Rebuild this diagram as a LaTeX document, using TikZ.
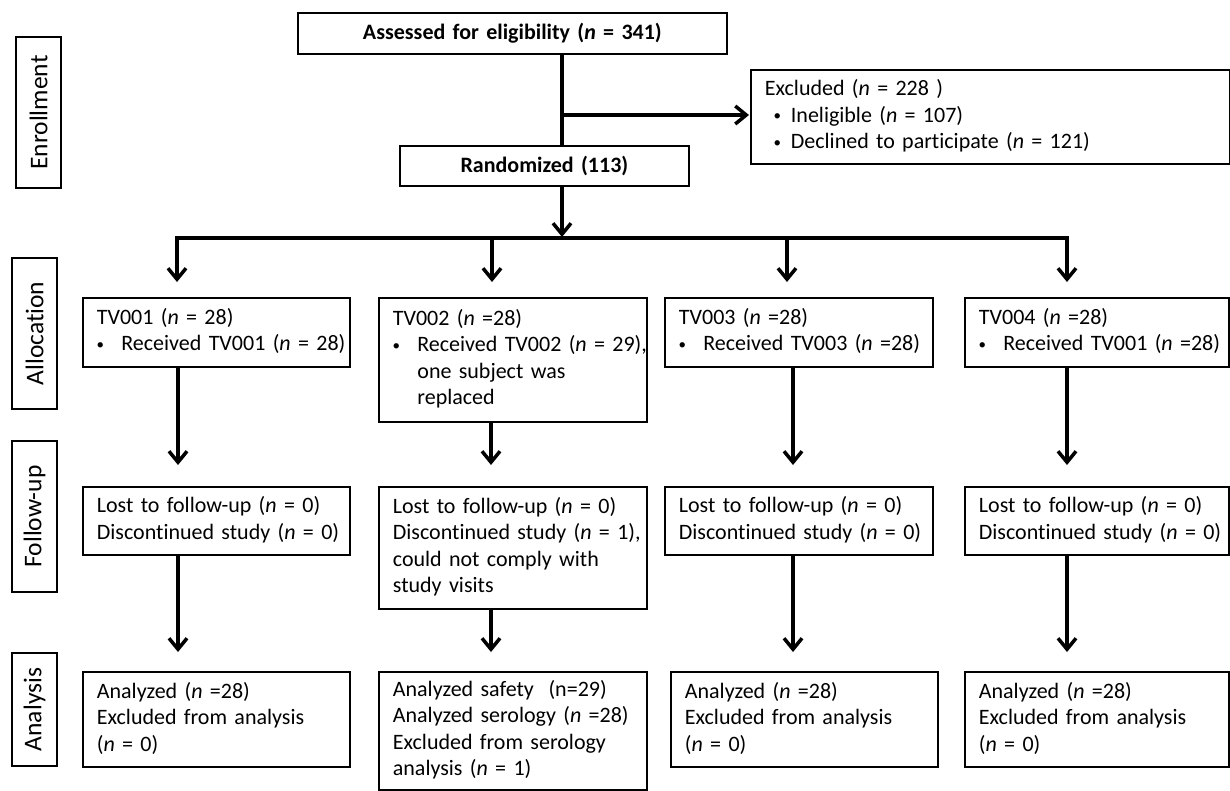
\documentclass[tikz,border=0pt]{standalone}
\usepackage{fontspec}
\setmainfont{Carlito}[Ligatures={NoCommon}]
\usetikzlibrary{arrows.meta}
\newcommand\tb[1]{\begin{tabular}{@{}l@{}}#1\end{tabular}}
\newcommand\mydot{\makebox[7pt]{\fontsize{15}{15}\selectfont\raisebox{1.5pt}{\textbullet}}}
\newcommand\bu{\makebox[24.5pt][l]{\mydot}}
\newcommand\bx{\makebox[26pt][l]{\hspace*{9pt}\mydot}}
\newcommand\nn{\textit{n}}
\newcommand\ind{\hspace*{24.5pt}}
\begin{document}
\begin{tikzpicture}[x=1pt,y=-1pt,
  box/.style={draw, line width=1.8pt, anchor=north west, inner xsep=14pt, inner ysep=0pt,
    align=left, font=\fontsize{22}{26.5}\selectfont},
  lab/.style={draw, line width=1.8pt, rotate=90, inner sep=0pt, minimum height=45pt,
    font=\fontsize{25.5}{30}\selectfont},
  arr/.style={line width=4pt, -{Straight Barb[length=11pt,width=18pt,line width=3.5pt]}},
  ln/.style={line width=4pt}]
\fill[white] (0,0) rectangle (1230,790);
\useasboundingbox (0,0) rectangle (1230,790);

% side labels
\node[lab, minimum width=151pt] (enr) at (38.5,112.5) {Enrollment};
\node[lab, minimum width=151pt] (alc) at (34.5,333.5) {Allocation};
\node[lab, minimum width=151pt] (fup) at (34.5,516.5) {Follow-up};
\node[lab, minimum width=113pt] (ana) at (34.5,709.5) {Analysis};

% enrollment
\node[box, text width=401pt, minimum height=41pt, align=center,
  font=\fontsize{22}{26.5}\selectfont\bfseries] (assess) at (297,12)
  {Assessed for eligibility (\nn{} = 341)};
\node[box, text width=451pt, minimum height=94pt] (excl) at (750,69)
  {\tb{Excluded (\nn{} = 228 )\\ \bx Ineligible (\nn{} = 107)\\ \bx Declined to participate (\nn{} = 121)}};
\node[box, text width=261pt, minimum height=40pt, align=center,
  font=\fontsize{22}{26.5}\selectfont\bfseries] (rand) at (399,145) {Randomized (113)};

% allocation
\node[box, text width=239pt, minimum height=69pt] (a1) at (82,297)
  {\tb{TV001 (\nn{} = 28)\\ \bu Received TV001 (\nn{} = 28)}};
\node[box, text width=240pt, minimum height=124pt] (a2) at (378,297)
  {\tb{TV002 (\nn{} =28)\\ \bu Received TV002 (\nn{} = 29),\\ \ind one subject was\\ \ind replaced}};
\node[box, text width=240pt, minimum height=69pt] (a3) at (664,297)
  {\tb{TV003 (\nn{} =28)\\ \bu Received TV003 (\nn{} =28)}};
\node[box, text width=236pt, minimum height=69pt] (a4) at (964,297)
  {\tb{TV004 (\nn{} =28)\\ \bu Received TV001 (\nn{} =28)}};

% follow-up
\node[box, text width=239pt, minimum height=68pt] (f1) at (82,486)
  {\tb{Lost to follow-up (\nn{} = 0)\\ Discontinued study (\nn{} = 0)}};
\node[box, text width=240pt, minimum height=122pt] (f2) at (378,486)
  {\tb{Lost to follow-up (\nn{} = 0)\\ Discontinued study (\nn{} = 1),\\ could not comply with\\ study visits}};
\node[box, text width=240pt, minimum height=68pt] (f3) at (664,486)
  {\tb{Lost to follow-up (\nn{} = 0)\\ Discontinued study (\nn{} = 0)}};
\node[box, text width=236pt, minimum height=68pt] (f4) at (964,486)
  {\tb{Lost to follow-up (\nn{} = 0)\\ Discontinued study (\nn{} = 0)}};

% analysis
\node[box, text width=239pt, minimum height=95pt] (n1) at (82,671)
  {\tb{Analyzed (\nn{} =28)\\ Excluded from analysis\\ (\nn{} = 0)}};
\node[box, text width=240pt, minimum height=118pt] (n2) at (378,671)
  {\tb{Analyzed safety~ (n=29)\\ Analyzed serology (\nn{} =28)\\ Excluded from serology\\ analysis (\nn{} = 1)}};
\node[box, text width=239pt, minimum height=95pt] (n3) at (670,671)
  {\tb{Analyzed (\nn{} =28)\\ Excluded from analysis\\ (\nn{} = 0)}};
\node[box, text width=236pt, minimum height=95pt] (n4) at (964,671)
  {\tb{Analyzed (\nn{} =28)\\ Excluded from analysis\\ (\nn{} = 0)}};

% coordinates
\coordinate (t) at (562,0);
\coordinate (br) at (562,115);
\coordinate (c1) at (177,238);
\coordinate (c2) at (492,238);
\coordinate (c3) at (787,238);
\coordinate (c4) at (1067,238);
\coordinate (k1) at (178,0);
\coordinate (k2) at (491,0);
\coordinate (k3) at (793,0);
\coordinate (k4) at (1067,0);

% connectors
\draw[line width=3.5pt] (assess.south -| t) -- (rand.north -| t);
\draw[arr, line width=3.5pt, shorten >=1pt] (br) -- (excl.west |- br);
\draw[arr, shorten >=1pt] (rand.south -| t) -- (t |- c1);
\draw[ln, line cap=rect] (c1) -- (c4);
\foreach \i in {1,2,3,4}{
  \draw[arr, shorten >=15pt] (c\i) -- (c\i |- a\i.north);
  \draw[arr, shorten >=21pt] (a\i.south -| k\i) -- (f\i.north -| k\i);
  \draw[arr, shorten >=19pt] (f\i.south -| k\i) -- (n\i.north -| k\i);
}
\end{tikzpicture}
\end{document}
